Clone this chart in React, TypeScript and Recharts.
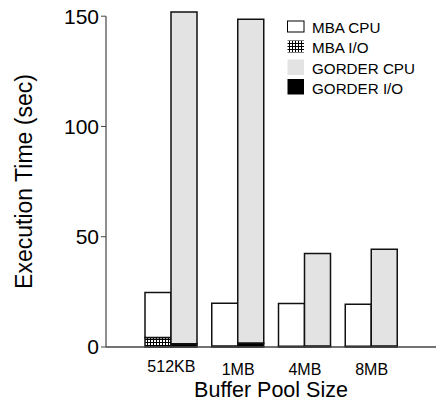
import React from 'react';
import { BarChart, Bar, XAxis, YAxis, Legend, ReferenceLine, Label } from 'recharts';

// Execution time (sec) per buffer pool size, split into CPU and I/O parts
const bufferSizes = ['512KB', '1MB', '4MB', '8MB'];
const mbaIo = [4.3, 0.5, 0.3, 0.3];
const mbaCpu = [20.4, 19.3, 19.4, 19.1];
const gorderIo = [1.5, 1.8, 0.5, 0.5];
const gorderCpu = [150.4, 146.8, 41.9, 43.8];
const yTicks = [0, 50, 100, 150];
const seriesNames = ['MBA CPU', 'MBA I/O', 'GORDER CPU', 'GORDER I/O'];

const data = bufferSizes.map((size, i) => ({
  size,
  mbaIo: mbaIo[i],
  mbaCpu: mbaCpu[i],
  gorderIo: gorderIo[i],
  gorderCpu: gorderCpu[i],
}));

const FONT = '"Liberation Sans", Arial, Helvetica, sans-serif';
const GRAY = '#e3e3e3';
const EDGE = '#111';

const GridPattern = ({ id }: { id: string }) => (
  <pattern id={id} width={3} height={3} patternUnits="userSpaceOnUse">
    <rect x={0} y={0} width={3} height={3} fill="#fff" />
    <rect x={0} y={0} width={3} height={1} fill="#000" />
    <rect x={0} y={0} width={1} height={3} fill="#000" />
  </pattern>
);

const BufferTick = (props: any) => {
  const { x, y, payload, index } = props;
  const lift = index === 0 ? 3 : 0;
  return (
    <text x={x} y={y + 28 - lift} textAnchor="middle" fontSize={16} fill="#000" fontFamily={FONT}>
      {payload.value}
    </text>
  );
};

const YTitle = (props: any) => {
  const { viewBox } = props;
  const cx = viewBox.x + 32;
  const cy = viewBox.y + viewBox.height / 2 + 2;
  return (
    <text
      x={cx}
      y={cy}
      textAnchor="middle"
      fontSize={23}
      fill="#000"
      fontFamily={FONT}
      transform={`rotate(-90, ${cx}, ${cy})`}
    >
      Execution Time (sec)
    </text>
  );
};

const XTitle = (props: any) => {
  const { viewBox } = props;
  return (
    <text
      x={viewBox.x + viewBox.width / 2}
      y={viewBox.y + 50}
      textAnchor="middle"
      fontSize={21.5}
      fill="#000"
      fontFamily={FONT}
    >
      Buffer Pool Size
    </text>
  );
};

const swatches = [
  { fill: '#fff', stroke: '#000', y: 11, h: 11 },
  { fill: 'url(#legendGrid)', stroke: 'none', y: 30.5, h: 12 },
  { fill: GRAY, stroke: 'none', y: 49.5, h: 15.5 },
  { fill: '#000', stroke: 'none', y: 69, h: 15.5 },
];
const baselines = [23, 43, 63.5, 84];

const LegendPanel = () => (
  <svg width={156} height={95} style={{ display: 'block' }}>
    <defs>
      <GridPattern id="legendGrid" />
    </defs>
    {seriesNames.map((name, i) => (
      <g key={name}>
        <rect
          x={7.5}
          y={swatches[i].y}
          width={16.5}
          height={swatches[i].h}
          fill={swatches[i].fill}
          stroke={swatches[i].stroke}
          strokeWidth={1}
        />
        <text x={32} y={baselines[i]} fontSize={15.2} fill="#000" fontFamily={FONT}>
          {name}
        </text>
      </g>
    ))}
  </svg>
);

export default function App() {
  return (
    <div style={{ position: 'absolute', left: 0, top: 0, width: 436, height: 402, background: '#fff', fontFamily: FONT }}>
      <BarChart
        width={436}
        height={402}
        data={data}
        margin={{ top: 12, right: 0, bottom: 0, left: 0 }}
        barCategoryGap={7}
        barGap={0}
      >
        <defs>
          <GridPattern id="mbaIoGrid" />
        </defs>
        <XAxis
          dataKey="size"
          height={55}
          padding={{ left: 32, right: 31 }}
          tickLine={false}
          tickSize={0}
          tickMargin={0}
          axisLine={{ stroke: '#444', strokeWidth: 1.5 }}
          tick={<BufferTick />}
          interval={0}
        >
          <Label content={<XTitle />} />
        </XAxis>
        <XAxis xAxisId="frame" type="number" domain={[0, 1]} hide />
        <YAxis
          width={106}
          domain={[0, 150]}
          ticks={yTicks}
          axisLine={false}
          tickLine={{ stroke: '#444' }}
          tickSize={5}
          tickMargin={2}
          tick={{ fontSize: 21, fill: '#000', fontFamily: FONT }}
        >
          <Label content={<YTitle />} />
        </YAxis>
        <ReferenceLine
          xAxisId="frame"
          segment={[
            { x: 0, y: 0 },
            { x: 0, y: 150 },
          ]}
          stroke="#444"
          strokeWidth={1.2}
        />
        <Bar dataKey="mbaIo" stackId="mba" fill="url(#mbaIoGrid)" stroke={EDGE} strokeWidth={1.5} isAnimationActive={false} />
        <Bar dataKey="mbaCpu" stackId="mba" fill="#fff" stroke={EDGE} strokeWidth={1.5} isAnimationActive={false} />
        <Bar dataKey="gorderIo" stackId="gorder" fill="#000" stroke={EDGE} strokeWidth={1.5} isAnimationActive={false} />
        <Bar dataKey="gorderCpu" stackId="gorder" fill={GRAY} stroke={EDGE} strokeWidth={1.5} isAnimationActive={false} />
        <Legend
          layout="vertical"
          align="center"
          verticalAlign="middle"
          wrapperStyle={{ left: 280, top: 10, width: 156, height: 95 }}
          content={() => <LegendPanel />}
        />
      </BarChart>
    </div>
  );
}
